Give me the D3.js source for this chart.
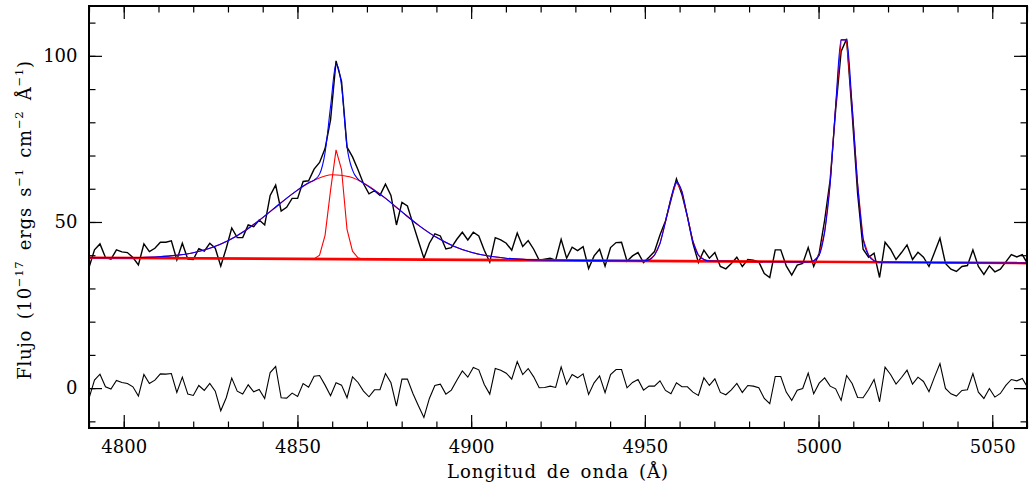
<!DOCTYPE html>
<html><head><meta charset="utf-8">
<script src="https://cdn.jsdelivr.net/npm/d3@7"></script>
<style>
body{margin:0;background:#fff}
svg text{font-family:"DejaVu Serif", serif; fill:#000}
</style>
</head><body>
<svg id="chart" width="1031" height="488"></svg>
<script>
// ---- data ----
const lambdaStart = 4790.0;   // wavelength of first pixel (Å)
const lambdaStep = 1.5803;    // Å per pixel
const flux = [36.3,41.6,43.4,39.3,38.8,41.6,41.0,40.8,39.3,37.1,
 43.4,41.1,42.1,43.9,43.9,44.3,38.6,43.6,38.8,38.7,
 42.0,41.2,43.6,42.1,36.7,42.1,48.2,45.3,45.3,49.1,
 48.6,50.6,49.1,58.0,61.1,53.3,54.4,57.1,57.1,62.2,
 62.4,65.9,67.9,72.1,80.7,98.5,92.3,72.5,69.6,65.7,
 61.5,58.5,59.4,58.0,61.4,58.0,49.1,55.9,54.8,49.5,
 44.3,39.1,43.6,46.4,45.8,41.9,42.3,44.8,46.9,44.6,
 46.9,45.8,41.5,37.9,45.3,44.6,43.6,41.5,46.7,42.6,
 44.4,41.8,38.5,38.8,39.1,38.5,44.8,39.1,42.4,41.4,
 42.6,36.0,39.8,41.8,36.7,42.3,43.8,43.9,38.2,39.8,
 40.8,37.8,39.4,41.1,46.1,50.3,56.6,63.0,58.3,51.6,
 43.6,37.8,41.5,39.1,40.8,36.6,35.9,37.5,39.4,36.6,
 38.7,38.5,38.0,34.5,33.3,41.6,41.6,36.8,34.0,37.0,
 37.5,42.3,36.6,40.6,50.6,62.7,83.7,101.3,105.1,82.7,
 58.6,41.8,39.4,40.6,33.3,43.9,41.8,38.7,40.8,43.1,
 38.7,40.9,39.4,36.6,40.8,45.1,37.5,35.8,35.1,36.6,
 36.9,41.6,36.6,34.2,36.8,35.0,35.8,38.0,40.2,39.5,
 40.2,37.3];
const residual = [-3.1,2.4,4.2,0.4,-0.3,2.3,1.7,1.4,0.4,-2.4,
 4.1,1.4,2.4,4.3,4.2,4.4,-1.3,3.3,-1.8,-2.2,
 0.8,-0.7,1.4,-0.9,-6.8,-2.9,3.0,-0.9,-1.8,1.0,
 -1.1,-0.4,-3.1,4.7,6.5,-2.9,-3.0,-1.5,-2.5,1.4,
 0.3,3.6,3.8,0.9,-2.3,1.6,0.9,-2.9,3.4,1.7,
 -0.9,-2.6,-0.5,-0.5,4.4,1.6,-5.4,2.7,2.7,-1.6,
 -5.3,-8.8,-3.1,0.8,1.2,-1.8,-0.6,2.4,5.2,3.3,
 6.2,5.5,1.1,-1.8,5.9,5.4,4.5,2.7,8.0,4.1,
 5.9,3.4,0.1,0.2,0.6,0.2,6.4,1.1,4.1,3.1,
 4.3,-1.9,1.6,3.7,-1.4,4.1,5.6,5.6,0.1,1.7,
 2.6,-0.6,0.6,0.6,2.2,-0.7,-1.7,1.6,0.4,0.4,
 -1.2,-2.2,3.1,0.8,2.8,-1.3,-2.0,-0.5,1.4,-1.3,
 0.8,0.6,0.1,-3.1,-4.7,3.5,3.5,-1.2,-3.7,-0.6,
 -0.1,4.5,-1.7,1.5,3.1,0.6,-0.2,-3.7,3.8,1.4,
 -2.8,-2.9,-0.4,2.6,-4.1,6.3,4.1,1.2,3.2,5.4,
 1.2,3.3,2.0,-1.1,3.3,7.4,-0.1,-1.7,-2.4,-0.7,
 -0.5,4.4,-1.2,-3.1,-0.1,-2.7,-1.6,0.8,2.6,2.2,
 2.9,0.1];
// model components [wavelength, flux]
const continuum = [[4790,39.25],[5060,37.63]];
const broadHbeta = [[4790,39.25],[4800,39.25],[4805,39.32],[4810,39.52],[4815,39.94],[4820,40.75],
 [4825,42.17],[4830,44.36],[4835,47.44],[4840,51.30],[4845,55.56],[4850,59.60],[4855,62.65],
 [4860,64.2],[4865,63.6],[4870,61.12],[4875,57.41],[4880,53.10],[4885,48.92],[4890,45.38],
 [4895,42.71],[4900,40.88],[4905,39.74],[4910,39.10],[4915,38.75],[4920,38.57],[4925,38.48],
 [4930,38.41],[5060,37.63]];
const narrowHbeta = [[4790,39.25],[4853.21,38.87],[4854.79,38.86],[4856.37,40.0],[4857.95,46.0],
 [4859.53,59.5],[4861.11,71.7],[4862.69,65.8],[4864.27,47.8],[4865.85,41.2],[4867.43,39.2],
 [4869.01,38.8],[5060,37.63]];
const oiiiLines = [[4940,38.35],[4949.61,38.3],[4951.19,38.6],[4952.77,40.0],[4954.35,43.5],
 [4955.93,50.0],[4957.51,57.2],[4959.09,62.0],[4960.67,59.2],[4962.25,51.6],[4963.83,44.2],
 [4965.41,40.0],[4966.99,38.7],[4968.57,38.25],[4980,38.1],[4995.44,38.0],[4997.02,37.97],
 [4998.60,38.3],[5000.18,40.0],[5001.76,47.0],[5003.34,61.5],[5004.92,85.0],[5006.50,104.8],
 [5008.08,104.8],[5009.66,85.0],[5011.24,61.5],[5012.82,45.0],[5014.40,40.0],[5015.98,38.3],
 [5017.56,37.9],[5030,37.80],[5045,37.72],[5060,37.63]];
const totalFit = [[4790,39.25],[4800,39.25],[4805,39.32],[4810,39.52],[4815,39.94],[4820,40.75],
 [4825,42.17],[4830,44.36],[4835,47.44],[4840,51.30],[4845,55.56],[4850,59.60],[4853.21,61.8],
 [4854.79,62.6],[4856.37,64.4],[4857.95,70.9],[4859.53,84.7],[4861.11,97.6],[4862.69,91.0],
 [4864.27,72.7],[4865.85,65.6],[4867.43,62.9],[4869.01,61.7],[4875,57.41],[4880,53.10],
 [4885,48.92],[4890,45.38],[4895,42.71],[4900,40.88],[4905,39.74],[4910,39.10],[4915,38.75],
 [4920,38.57],[4925,38.48],[4930,38.41],[4940,38.35],[4949.61,38.3],[4951.19,38.6],[4952.77,40.0],
 [4954.35,43.5],[4955.93,50.0],[4957.51,57.2],[4959.09,62.0],[4960.67,59.2],[4962.25,51.6],
 [4963.83,44.2],[4965.41,40.0],[4966.99,38.7],[4968.57,38.25],[4980,38.1],[4995.44,38.0],
 [4997.02,37.97],[4998.60,38.3],[5000.18,40.0],[5001.76,47.0],[5003.34,61.5],[5004.92,85.0],
 [5006.50,104.8],[5008.08,104.8],[5009.66,85.0],[5011.24,61.5],[5012.82,45.0],[5014.40,40.0],
 [5015.98,38.3],[5017.56,37.9],[5030,37.80],[5045,37.72],[5060,37.63]];
const xMajorTicks = [4800,4850,4900,4950,5000,5050];
const xMinorTicks = [4790,4800,4810,4820,4830,4840,4850,4860,4870,4880,4890,4900,4910,4920,4930,4940,4950,4960,4970,4980,4990,5000,5010,5020,5030,5040,5050,5060];
const yMajorTicks = [0,50,100];
const yMinorTicks = [-10,0,10,20,30,40,50,60,70,80,90,100,110];
const xDomain = [4790,5060];
const yDomain = [-12,115];

// ---- drawing ----
const svg = d3.select('#chart');
const L=89, R=1027, T=6, B=428;
const x = d3.scaleLinear().domain(xDomain).range([L,R]);
const y = d3.scaleLinear().domain(yDomain).range([B,T]);

svg.append('defs').append('clipPath').attr('id','clip')
  .append('rect').attr('x',L).attr('y',T).attr('width',R-L).attr('height',B-T);

const plot = svg.append('g').attr('clip-path','url(#clip)');
const spec = flux.map((v,i)=>[lambdaStart+i*lambdaStep, v]);
const resid = residual.map((v,i)=>[lambdaStart+i*lambdaStep, v]);
const lin = d3.line().x(d=>x(d[0])).y(d=>y(d[1]));
const smooth = d3.line().x(d=>x(d[0])).y(d=>y(d[1])).curve(d3.curveMonotoneX);

plot.append('path').datum(spec).attr('d',lin).attr('fill','none').attr('stroke','#000').attr('stroke-width',1.4);
plot.append('path').datum(resid).attr('d',lin).attr('fill','none').attr('stroke','#000').attr('stroke-width',1.1);
plot.append('path').datum(continuum).attr('d',lin).attr('fill','none').attr('stroke','#ff0000').attr('stroke-width',2.6);
plot.append('path').datum(broadHbeta).attr('d',smooth).attr('fill','none').attr('stroke','#ff0000').attr('stroke-width',1.1);
plot.append('path').datum(narrowHbeta).attr('d',lin).attr('fill','none').attr('stroke','#ff0000').attr('stroke-width',1.1);
plot.append('path').datum(oiiiLines).attr('d',lin).attr('fill','none').attr('stroke','#ff0000').attr('stroke-width',1.1);
plot.append('path').datum(totalFit).attr('d',smooth).attr('fill','none').attr('stroke','#0000ff').attr('stroke-width',1.1);

// axes: ticks inward on all four sides
function styleAxis(g){ g.select('.domain').remove(); g.selectAll('line').attr('stroke','#000').attr('stroke-width',1.2); g.selectAll('text').attr('font-size',18).attr('font-family','DejaVu Serif, serif'); }
svg.append('g').attr('transform',`translate(0,${B})`)
  .call(d3.axisBottom(x).tickValues(xMinorTicks).tickSize(-6.5).tickFormat('')).call(styleAxis);
svg.append('g').attr('transform',`translate(0,${B})`)
  .call(d3.axisBottom(x).tickValues(xMajorTicks).tickSize(-13).tickPadding(12.5).tickFormat(d3.format('d'))).call(styleAxis);
svg.append('g').attr('transform',`translate(0,${T})`)
  .call(d3.axisTop(x).tickValues(xMinorTicks).tickSize(-6.5).tickFormat('')).call(styleAxis);
svg.append('g').attr('transform',`translate(0,${T})`)
  .call(d3.axisTop(x).tickValues(xMajorTicks).tickSize(-13).tickFormat('')).call(styleAxis);
svg.append('g').attr('transform',`translate(${L},0)`)
  .call(d3.axisLeft(y).tickValues(yMinorTicks).tickSize(-6.5).tickFormat('')).call(styleAxis);
svg.append('g').attr('transform',`translate(${L},0)`)
  .call(d3.axisLeft(y).tickValues(yMajorTicks).tickSize(-13).tickPadding(11.5).tickFormat(d3.format('d'))).call(styleAxis);
svg.append('g').attr('transform',`translate(${R},0)`)
  .call(d3.axisRight(y).tickValues(yMinorTicks).tickSize(-6.5).tickFormat('')).call(styleAxis);
svg.append('g').attr('transform',`translate(${R},0)`)
  .call(d3.axisRight(y).tickValues(yMajorTicks).tickSize(-13).tickFormat('')).call(styleAxis);

svg.append('rect').attr('x',L).attr('y',T).attr('width',R-L).attr('height',B-T)
  .attr('fill','none').attr('stroke','#000').attr('stroke-width',2);

// axis titles
svg.append('text').attr('x',(L+R)/2).attr('y',477.5).attr('text-anchor','middle')
  .attr('font-size',18).attr('letter-spacing',1).attr('word-spacing',3)
  .text('Longitud de onda (Å)');
const yt = svg.append('text').attr('transform','translate(30.5,220) rotate(-90)')
  .attr('text-anchor','middle').attr('font-size',18).attr('letter-spacing',0.75).attr('word-spacing',4);
const parts = [['Flujo (10',0],['−17',1],[' ergs s',0],['−1',1],[' cm',0],['−2',1],[' Å',0],['−1',1],[')',0]];
let prevSup = 0;
parts.forEach(([t,sup])=>{
  const ts = yt.append('tspan').text(t);
  if(sup){ ts.attr('font-size',11.5).attr('dy', prevSup? 0 : -7.5); }
  else if(prevSup){ ts.attr('dy',7.5); }
  prevSup = sup;
});
</script>
</body></html>
